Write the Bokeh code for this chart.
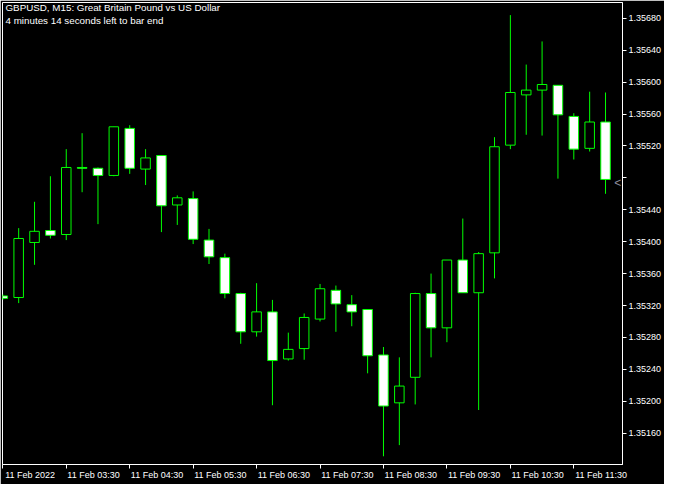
from bokeh.plotting import figure
from bokeh.models import (Range1d, FixedTicker, Label, NumeralTickFormatter,
                          CustomJSTickFormatter, ColumnDataSource)
from bokeh.embed import file_html
from bokeh.resources import INLINE

# ---------------- data ----------------
symbol_title = "GBPUSD, M15:  Great Britain Pound vs US Dollar"
timer_text = "4 minutes 14 seconds left to bar end"

first_bar = -1  # bar index of the first (partly hidden) candle, 11 Feb 02:30

opens = [1.35332, 1.35330, 1.35399, 1.35414, 1.35409, 1.35493, 1.35492, 1.35483,
         1.35542, 1.35491, 1.35508, 1.35446, 1.35454, 1.35402, 1.35380, 1.35335,
         1.35287, 1.35312, 1.35253, 1.35266, 1.35303, 1.35339, 1.35321, 1.35315,
         1.35258, 1.35198, 1.35230, 1.35335, 1.35292, 1.35377, 1.35336, 1.35386,
         1.35521, 1.35584, 1.35590, 1.35596, 1.35557, 1.35517, 1.35550]
highs = [1.35334, 1.35417, 1.35450, 1.35482, 1.35516, 1.35536, 1.35493, 1.35544,
         1.35546, 1.35516, 1.35508, 1.35458, 1.35463, 1.35416, 1.35385, 1.35336,
         1.35348, 1.35327, 1.35286, 1.35310, 1.35347, 1.35345, 1.35333, 1.35315,
         1.35268, 1.35255, 1.35336, 1.35360, 1.35377, 1.35429, 1.35387, 1.35531,
         1.35684, 1.35622, 1.35651, 1.35596, 1.35561, 1.35588, 1.35587]
lows = [1.35327, 1.35323, 1.35371, 1.35404, 1.35402, 1.35462, 1.35422, 1.35482,
        1.35485, 1.35471, 1.35412, 1.35421, 1.35397, 1.35372, 1.35329, 1.35272,
        1.35281, 1.35195, 1.35251, 1.35252, 1.35300, 1.35287, 1.35294, 1.35235,
        1.35131, 1.35145, 1.35196, 1.35255, 1.35274, 1.35336, 1.35189, 1.35354,
        1.35516, 1.35534, 1.35533, 1.35479, 1.35503, 1.35513, 1.35460]
closes = [1.35329, 1.35404, 1.35413, 1.35408, 1.35493, 1.35492, 1.35483, 1.35544,
          1.35492, 1.35505, 1.35445, 1.35455, 1.35403, 1.35381, 1.35335, 1.35287,
          1.35312, 1.35251, 1.35265, 1.35305, 1.35341, 1.35322, 1.35312, 1.35257,
          1.35194, 1.35219, 1.35335, 1.35292, 1.35377, 1.35336, 1.35385, 1.35519,
          1.35587, 1.35590, 1.35597, 1.35559, 1.35516, 1.35550, 1.35478]

current_price = 1.35474

price_ticks = [1.35160, 1.35200, 1.35240, 1.35280, 1.35320, 1.35360, 1.35400,
               1.35440, 1.35520, 1.35560, 1.35600, 1.35640, 1.35680]
hidden_price_ticks = [1.35480]

time_tick_bars = [-1, 3, 7, 11, 15, 19, 23, 27, 31, 35]
time_tick_labels = ["11 Feb 2022", "11 Feb 03:30", "11 Feb 04:30", "11 Feb 05:30",
                    "11 Feb 06:30", "11 Feb 07:30", "11 Feb 08:30", "11 Feb 09:30",
                    "11 Feb 10:30", "11 Feb 11:30"]

# ---------------- styling ----------------
GREEN = "#00ff00"
FONT = "Liberation Sans"
LABEL_SHIFT = 1.72  # bars: moves centred axis labels so they start at their tick

bars = list(range(first_bar, first_bar + len(opens)))
bull = [c >= o for o, c in zip(opens, closes)]
src = ColumnDataSource(dict(
    x=bars, open=opens, high=highs, low=lows, close=closes,
    top=[max(o, c) for o, c in zip(opens, closes)],
    bottom=[min(o, c) for o, c in zip(opens, closes)],
    fill=["black" if b else "white" for b in bull],
))

y_lo, y_hi = 1.351207, 1.356998
p = figure(width=664, height=484,
           x_range=Range1d(-1.02, 38.07), y_range=Range1d(y_lo, y_hi),
           output_backend="svg", toolbar_location=None,
           y_axis_location="right",
           background_fill_color="black", border_fill_color="black",
           outline_line_color="white", outline_line_width=1,
           min_border_left=2, min_border_top=2,
           min_border_right=42, min_border_bottom=20)
p.xgrid.visible = False
p.ygrid.visible = False

# candles
p.segment(x0="x", y0="low", x1="x", y1="high", source=src,
          line_color=GREEN, line_width=1)
p.vbar(x="x", width=0.6, top="top", bottom="bottom", source=src,
       fill_color="fill", line_color=GREEN, line_width=1)

# x axis: tick marks as minor ticks at the bars, labels on shifted major ticks
xa = p.xaxis[0]
xa.ticker = FixedTicker(ticks=[b + LABEL_SHIFT for b in time_tick_bars],
                        minor_ticks=time_tick_bars)
xa.formatter = CustomJSTickFormatter(args=dict(labels=time_tick_labels),
                                     code="return labels[index]")
xa.axis_line_color = "white"
xa.major_tick_line_color = None
xa.major_tick_out = 4
xa.major_tick_in = 0
xa.minor_tick_line_color = "white"
xa.minor_tick_out = 4
xa.minor_tick_in = 0
xa.major_label_standoff = 1
xa.major_label_text_color = "white"
xa.major_label_text_font = FONT
xa.major_label_text_font_size = "9px"

# y axis (right)
ya = p.yaxis[0]
ya.ticker = FixedTicker(ticks=price_ticks, minor_ticks=hidden_price_ticks)
ya.formatter = NumeralTickFormatter(format="0.00000")
ya.axis_line_color = "white"
ya.major_tick_line_color = "white"
ya.minor_tick_line_color = "white"
ya.major_tick_out = 4
ya.major_tick_in = 0
ya.minor_tick_out = 4
ya.minor_tick_in = 0
ya.major_label_standoff = 2
ya.major_label_text_color = "white"
ya.major_label_text_font = FONT
ya.major_label_text_font_size = "9px"

# header texts
p.add_layout(Label(x=-1.02, y=y_hi, x_offset=3, y_offset=1, text=symbol_title,
                   text_align="left", text_baseline="top", text_color="white",
                   text_font=FONT, text_font_size="9.8px"))
p.add_layout(Label(x=-1.02, y=y_hi, x_offset=3, y_offset=-12, text=timer_text,
                   text_align="left", text_baseline="top", text_color="white",
                   text_font=FONT, text_font_size="9.8px"))

# current price marker
p.add_layout(Label(x=37.55, y=current_price, text="<", text_align="left",
                   text_baseline="middle", text_color="#8c8c9c",
                   text_font=FONT, text_font_size="12px"))

open("out.html", "w").write(file_html(p, INLINE))
